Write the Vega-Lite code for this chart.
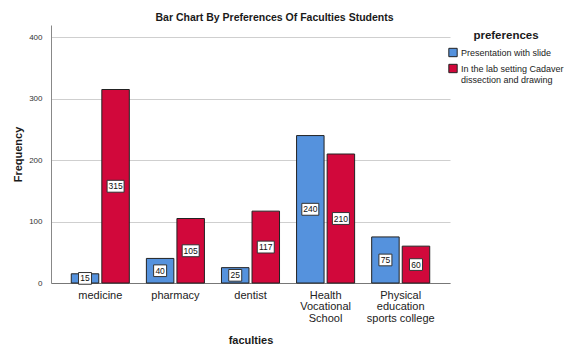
{
  "$schema": "https://vega.github.io/schema/vega-lite/v6.json",
  "autosize": "none",
  "width": 399,
  "height": 258,
  "padding": {"left": 51, "top": 25, "right": 123, "bottom": 72},
  "background": "white",
  "title": {"text": "Bar Chart By Preferences Of Faculties Students", "font": "Liberation Sans", "fontSize": 10.5, "fontWeight": "bold", "color": "#1a1a1a", "anchor": "middle", "frame": "group", "dx": 24, "offset": 2},
  "data": {"values": [
    {"faculty": "medicine", "preferences": "Presentation with slide", "value": 15},
    {"faculty": "medicine", "preferences": "In the lab setting Cadaver dissection and drawing", "value": 315},
    {"faculty": "pharmacy", "preferences": "Presentation with slide", "value": 40},
    {"faculty": "pharmacy", "preferences": "In the lab setting Cadaver dissection and drawing", "value": 105},
    {"faculty": "dentist", "preferences": "Presentation with slide", "value": 25},
    {"faculty": "dentist", "preferences": "In the lab setting Cadaver dissection and drawing", "value": 117},
    {"faculty": "Health Vocational School", "preferences": "Presentation with slide", "value": 240},
    {"faculty": "Health Vocational School", "preferences": "In the lab setting Cadaver dissection and drawing", "value": 210},
    {"faculty": "Physical education sports college", "preferences": "Presentation with slide", "value": 75},
    {"faculty": "Physical education sports college", "preferences": "In the lab setting Cadaver dissection and drawing", "value": 60}
  ]},
  "encoding": {
    "x": {"field": "faculty", "type": "nominal", "sort": null,
      "scale": {"paddingInner": 0.227, "paddingOuter": 0.27},
      "axis": {"title": "faculties", "titleFont": "Liberation Sans", "titleFontSize": 11, "titleFontWeight": "bold", "titleColor": "#1a1a1a", "titlePadding": 11,
        "labelAngle": 0, "labelFont": "Liberation Sans", "labelFontSize": 11, "labelColor": "#222", "labelPadding": 6, "labelLineHeight": 11.5,
        "ticks": false, "domainColor": "#777", "grid": false,
        "labelExpr": "datum.value == 'Health Vocational School' ? ['Health','Vocational','School'] : datum.value == 'Physical education sports college' ? ['Physical','education','sports college'] : datum.value"}},
    "xOffset": {"field": "preferences", "type": "nominal", "sort": ["Presentation with slide", "In the lab setting Cadaver dissection and drawing"], "scale": {"paddingInner": 0.1}}
  },
  "layer": [
    {
      "mark": {"type": "bar", "stroke": "#222", "strokeWidth": 1},
      "encoding": {
        "y": {"field": "value", "type": "quantitative", "scale": {"domain": [0, 420], "nice": false},
          "axis": {"title": "Frequency", "titleFont": "Liberation Sans", "titleFontSize": 11, "titleFontWeight": "bold", "titleColor": "#1a1a1a", "titlePadding": 5,
            "values": [0, 100, 200, 300, 400], "labelFont": "Liberation Sans", "labelFontSize": 8, "labelColor": "#333", "labelPadding": 9,
            "ticks": false, "domainColor": "#888", "grid": true, "gridColor": "#cfcfcf"}},
        "color": {"field": "preferences", "type": "nominal", "sort": ["Presentation with slide", "In the lab setting Cadaver dissection and drawing"],
          "scale": {"domain": ["Presentation with slide", "In the lab setting Cadaver dissection and drawing"], "range": ["#5592dd", "#d1083b"]},
          "legend": {"orient": "none", "legendX": 397, "legendY": 5, "title": "preferences", "titleFont": "Liberation Sans", "titleFontSize": 11.5, "titleFontWeight": "bold", "titleColor": "#1a1a1a",
            "titleAnchor": "middle", "titlePadding": 6, "symbolType": "square", "symbolSize": 70, "symbolStrokeColor": "#222", "symbolStrokeWidth": 1, "symbolOpacity": 1,
            "labelFont": "Liberation Sans", "labelFontSize": 9, "labelColor": "#222", "labelOffset": 3, "rowPadding": 2, "labelLimit": 200, "labelLineHeight": 9.5,
            "labelExpr": "datum.label == 'In the lab setting Cadaver dissection and drawing' ? ['In the lab setting Cadaver','dissection and drawing'] : datum.label"}}
      }
    },
    {
      "transform": [{"filter": "datum.value >= 100"}],
      "mark": {"type": "point", "shape": "M-1,-0.7H1V0.7H-1Z", "size": 289, "filled": true, "fill": "white", "stroke": "#333", "strokeWidth": 1, "opacity": 1},
      "encoding": {"y": {"field": "value", "type": "quantitative", "scale": {"domain": [0, 840], "nice": false}, "axis": null}}
    },
    {
      "transform": [{"filter": "datum.value < 100"}],
      "mark": {"type": "point", "shape": "M-1,-0.9H1V0.9H-1Z", "size": 169, "filled": true, "fill": "white", "stroke": "#333", "strokeWidth": 1, "opacity": 1},
      "encoding": {"y": {"field": "value", "type": "quantitative", "scale": {"domain": [0, 840], "nice": false}, "axis": null}}
    },
    {
      "mark": {"type": "text", "font": "Liberation Sans", "fontSize": 8.5, "color": "#111", "baseline": "middle", "align": "center"},
      "encoding": {
        "y": {"field": "value", "type": "quantitative", "scale": {"domain": [0, 840], "nice": false}, "axis": null},
        "text": {"field": "value", "type": "quantitative"}
      }
    }
  ],
  "resolve": {"scale": {"y": "independent"}},
  "config": {"view": {"stroke": null}}
}
